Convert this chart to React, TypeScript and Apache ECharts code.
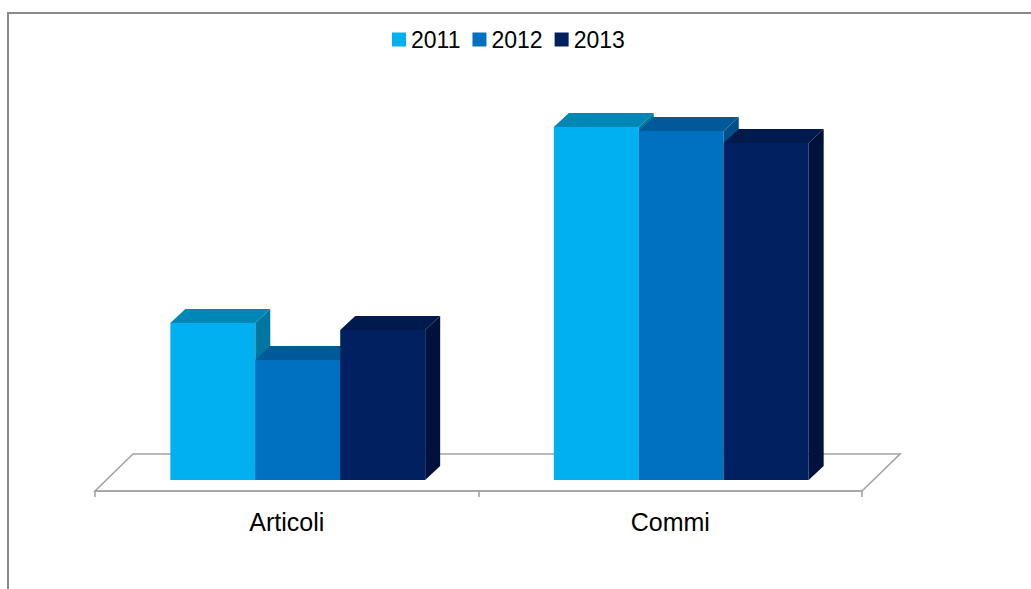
import React, { useEffect, useRef } from "react";
import * as echarts from "echarts";

const categories = ["Articoli", "Commi"];
const years = ["2011", "2012", "2013"];
const values2011 = [157, 353];
const values2012 = [120, 349];
const values2013 = [150, 337];
const frontColors = ["#00B0F0", "#0070C0", "#002060"];
const topColors = ["#0087B5", "#005A9A", "#001A4E"];
const sideColors = ["#0076A0", "#004F88", "#00123C"];

export default function App() {
  const ref = useRef<HTMLDivElement>(null);
  useEffect(() => {
    if (!ref.current) return;
    const chart = echarts.init(ref.current, undefined, { renderer: "svg" });
    const seriesValues = [values2011, values2012, values2013];
    const OFF = 11;
    const DX = 15;
    const DY = 14;
    const FLOOR_DX = 38;
    const FLOOR_DY = 37;

    const barSeries = seriesValues.map((vals, i) => ({
      type: "custom",
      name: years[i],
      itemStyle: { color: frontColors[i] },
      encode: { x: 0, y: 1 },
      data: vals.map((v, c) => [c, v]),
      z: 3,
      renderItem: (params: any, api: any) => {
        const cat = api.value(0);
        const v = api.value(1);
        const base = api.coord([cat, 0]);
        const topP = api.coord([cat, v]);
        const band = api.size([1, 0])[0];
        const bw = band * 0.2215;
        const x0 = base[0] + OFF + (i - 1.5) * bw;
        const x1 = x0 + bw;
        const yb = base[1] - OFF;
        const yt = topP[1] - OFF;
        return {
          type: "group",
          children: [
            {
              type: "polygon",
              shape: { points: [[x1, yt], [x1 + DX, yt - DY], [x1 + DX, yb - DY], [x1, yb]] },
              style: { fill: sideColors[i] },
            },
            {
              type: "polygon",
              shape: { points: [[x0, yt], [x1, yt], [x1 + DX, yt - DY], [x0 + DX, yt - DY]] },
              style: { fill: topColors[i] },
            },
            {
              type: "rect",
              shape: { x: x0, y: yt, width: bw, height: yb - yt },
              style: { fill: frontColors[i] },
            },
          ],
        };
      },
    }));

    const floorSeries = {
      type: "custom",
      name: "floor",
      data: [[0, 0]],
      encode: { x: 0, y: 1 },
      z: 1,
      silent: true,
      renderItem: (params: any) => {
        const cs = params.coordSys;
        const x = cs.x;
        const w = cs.width;
        const yf = cs.y + cs.height;
        return {
          type: "group",
          children: [
            {
              type: "polygon",
              shape: { points: [[x, yf], [x + FLOOR_DX, yf - FLOOR_DY], [x + w + FLOOR_DX, yf - FLOOR_DY], [x + w, yf]] },
              style: { fill: "#ffffff", stroke: "#a3a3a3", lineWidth: 1.6 },
            },
          ],
        };
      },
    };

    chart.setOption({
      animation: false,
      textStyle: { fontFamily: "Liberation Sans, Arial, sans-serif" },
      graphic: [
        {
          type: "rect",
          shape: { x: 8, y: 13, width: 1200, height: 800 },
          style: { fill: "none", stroke: "#8a8a8a", lineWidth: 2 },
          z: 0,
        },
      ],
      legend: {
        data: years,
        left: 392,
        top: 28,
        padding: 0,
        icon: "rect",
        itemWidth: 14,
        itemHeight: 14,
        itemGap: 12,
        textStyle: { fontSize: 23, color: "#000", fontFamily: "Liberation Sans, Arial, sans-serif" },
      },
      grid: { left: 95, right: 169, top: 91, bottom: 98 },
      xAxis: {
        type: "category",
        data: categories,
        axisLine: { show: true, lineStyle: { color: "#a3a3a3", width: 1.6 } },
        axisTick: { show: true, length: 6, lineStyle: { color: "#a3a3a3", width: 1.6 } },
        axisLabel: { fontSize: 25, color: "#000", margin: 18, fontFamily: "Liberation Sans, Arial, sans-serif" },
        z: 2,
      },
      yAxis: { type: "value", min: 0, max: 400, show: false, splitLine: { show: false } },
      series: [floorSeries, ...barSeries],
    });
    return () => chart.dispose();
  }, []);
  return (
    <div
      ref={ref}
      style={{ position: "absolute", left: 0, top: 0, width: 1031, height: 589, background: "#fff" }}
    />
  );
}
